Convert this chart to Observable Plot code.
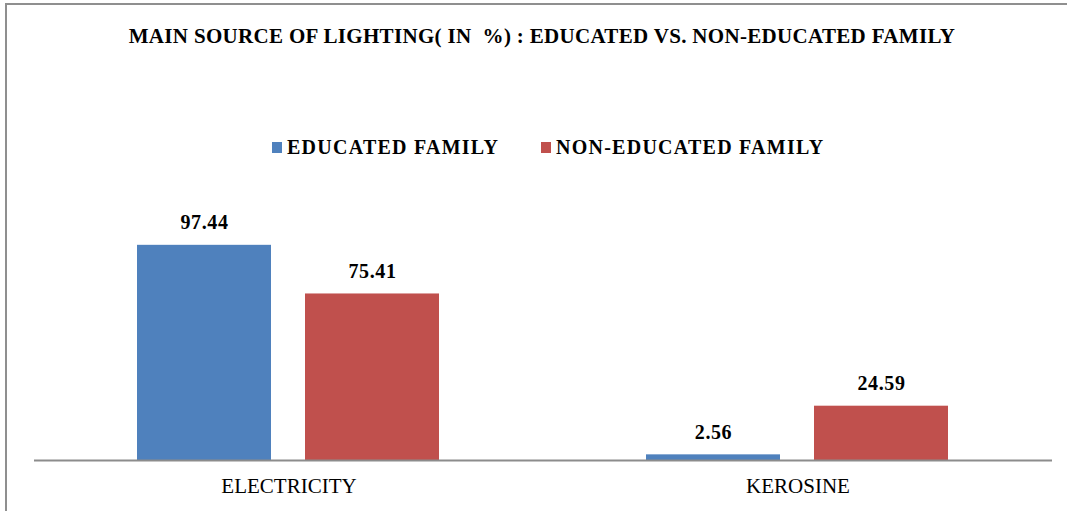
<!DOCTYPE html>
<html>
<head>
<meta charset="utf-8">
<script src="https://cdn.jsdelivr.net/npm/d3@7"></script>
<script src="https://cdn.jsdelivr.net/npm/@observablehq/plot@0.6"></script>
<style>
  html, body { margin: 0; padding: 0; background: #fff; overflow: hidden; }
  #wrap { position: relative; width: 1067px; height: 511px; font-family: "Liberation Serif", "Times New Roman", serif; }
  #frame { position: absolute; left: 5px; top: 3px; width: 1100px; height: 600px;
           border-top: 2px solid #8f8f8f; border-left: 2px solid #8f8f8f; pointer-events: none; }
  #header { position: relative; height: 170px; }
  #title { position: absolute; left: 17px; width: 1050px; top: 26px; text-align: center;
           font-weight: bold; font-size: 21px; line-height: 21px; letter-spacing: 0.32px; color: #000; }
  .leg { position: absolute; top: 137px; font-weight: bold; font-size: 20px; line-height: 20px;
         white-space: nowrap; letter-spacing: 1.25px; color: #000; }
  .sw { position: absolute; width: 10px; height: 11px; top: 142px; }
  #chart svg { display: block; }
</style>
</head>
<body>
<div id="wrap">
  <div id="header">
    <div id="title"></div>
    <div id="legend"></div>
  </div>
  <div id="chart"></div>
  <div id="frame"></div>
</div>
<script>
const titleText = "MAIN SOURCE OF LIGHTING( IN  %) : EDUCATED VS. NON-EDUCATED FAMILY";
const categories = ["ELECTRICITY", "KEROSINE"];
const series = ["EDUCATED FAMILY", "NON-EDUCATED FAMILY"];
const educated = [97.44, 2.56];
const nonEducated = [75.41, 24.59];
const colors = ["#4F81BD", "#C0504D"];

// title
const t = document.getElementById("title");
t.textContent = titleText;
t.style.whiteSpace = "pre";

// legend
const legend = document.getElementById("legend");
const legX = [272, 541];
series.forEach((s, i) => {
  const sw = document.createElement("div");
  sw.className = "sw";
  sw.style.left = legX[i] + "px";
  sw.style.background = colors[i];
  legend.appendChild(sw);
  const lab = document.createElement("div");
  lab.className = "leg";
  lab.style.left = (legX[i] + 15) + "px";
  lab.textContent = s;
  legend.appendChild(lab);
});

const data = [];
categories.forEach((c, i) => {
  data.push({category: c, series: series[0], value: educated[i]});
  data.push({category: c, series: series[1], value: nonEducated[i]});
});

const chart = Plot.plot({
  width: 1067,
  height: 341,
  marginTop: 25,
  marginBottom: 51,
  marginLeft: 34,
  marginRight: 15,
  style: {fontFamily: "Liberation Serif, Times New Roman, serif", background: "transparent", color: "#000"},
  fx: {domain: categories, padding: 0, axis: null, label: null},
  x: {domain: series, paddingInner: 0.2, paddingOuter: 0.614, axis: null},
  y: {domain: [0, 120], axis: null},
  color: {domain: series, range: colors},
  marks: [
    Plot.barY(data, {fx: "category", x: "series", y: "value", fill: "series"}),
    Plot.text(data, {fx: "category", x: "series", y: "value", text: d => d.value.toFixed(2),
      lineAnchor: "bottom", dy: -16, fontSize: 20, fontWeight: "bold", fill: "#000"}),
    Plot.ruleY([0], {stroke: "#8c8c8c", strokeWidth: 2}),
    Plot.text(categories, {fx: d => d, text: d => d, frameAnchor: "bottom", lineAnchor: "top",
      dy: 18, fontSize: 21, fill: "#000"})
  ]
});
chart.querySelectorAll("text").forEach(el => {
  if (el.getAttribute("font-weight") === "bold" || (el.parentNode && el.parentNode.getAttribute("font-weight") === "bold")) {
    el.setAttribute("letter-spacing", "0.6");
  }
});
document.getElementById("chart").appendChild(chart);
</script>
</body>
</html>
